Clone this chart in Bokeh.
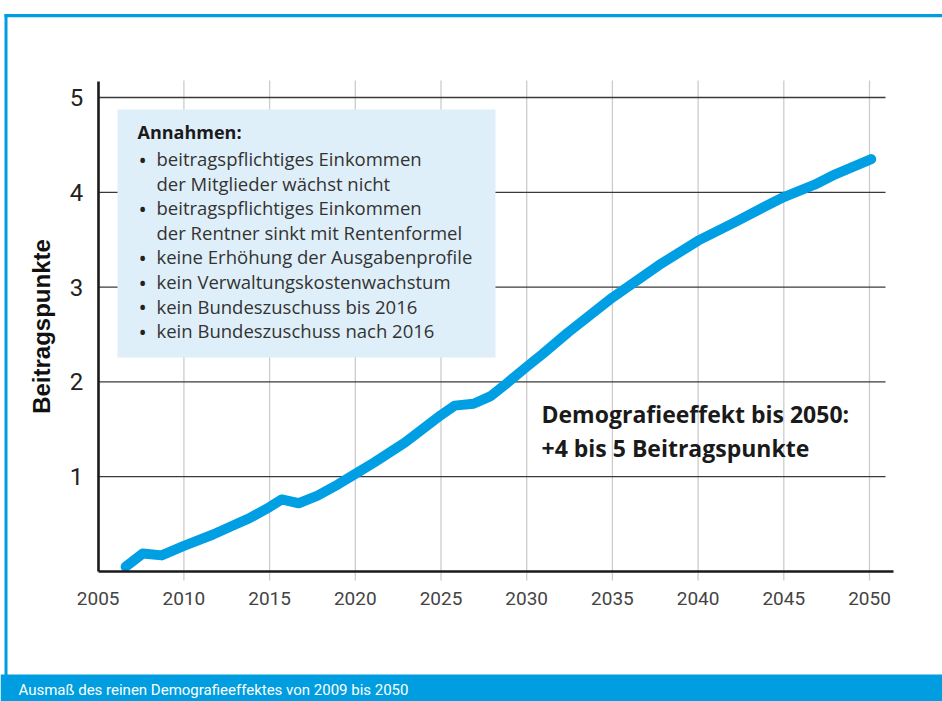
from bokeh.plotting import figure
from bokeh.models import Range1d, FixedTicker
from bokeh.core.properties import value
from bokeh.embed import file_html
from bokeh.resources import INLINE

# ---------------- data ----------------
years = [2006.6, 2007.6, 2008.7, 2010.0, 2011.7, 2012.8, 2013.8, 2015.0, 2015.7,
         2016.7, 2017.8, 2019.0, 2020.0, 2021.1, 2022.9, 2025.0, 2025.8, 2026.9,
         2027.9, 2028.8, 2030.0, 2030.9, 2032.4, 2035.0, 2037.7, 2040.0, 2042.1,
         2043.9, 2045.0, 2046.8, 2048.0, 2050.1]
beitragspunkte = [0.05, 0.19, 0.17, 0.27, 0.39, 0.48, 0.56, 0.68, 0.76,
                  0.72, 0.80, 0.92, 1.03, 1.15, 1.36, 1.65, 1.75, 1.77,
                  1.85, 1.98, 2.16, 2.29, 2.52, 2.89, 3.23, 3.49, 3.68,
                  3.85, 3.95, 4.08, 4.19, 4.35]
x_ticks = [2005, 2010, 2015, 2020, 2025, 2030, 2035, 2040, 2045, 2050]
y_ticks = [1, 2, 3, 4, 5]
grid_x = [2010, 2015, 2020, 2025, 2030, 2035, 2040, 2045, 2050]

legend_title = "Annahmen:"
legend_lines = ["beitragspflichtiges Einkommen", "der Mitglieder wächst nicht",
                "beitragspflichtiges Einkommen", "der Rentner sinkt mit Rentenformel",
                "keine Erhöhung der Ausgabenprofile", "kein Verwaltungskostenwachstum",
                "kein Bundeszuschuss bis 2016", "kein Bundeszuschuss nach 2016"]
legend_bullet = [True, False, True, False, True, True, True, True]
note_lines = ["Demografieeffekt bis 2050:", "+4 bis 5 Beitragspunkte"]
caption = "Ausmaß des reinen Demografieeffektes von 2009 bis 2050"
y_title = "Beitragspunkte"

# ---------------- geometry helpers (canvas pixel -> data) ----------------
XS, X0PX = 17.14, 97.7     # px per year, canvas x of 2005
YS, Y0PX = 94.8, 571.0     # px per unit, canvas y of 0


def dx(px):
    return 2005 + (px - X0PX) / XS


def dy(py):
    return (Y0PX - py) / YS


W, H = 942, 701
BLUE = "#009ee0"
LINE_BLUE = "#009fe3"
FONT = "Open Sans"

p = figure(width=W, height=H, x_range=Range1d(dx(0), dx(W)),
           y_range=Range1d(dy(H), dy(0)), min_border=0,
           output_backend="svg", toolbar_location=None,
           outline_line_color=None, background_fill_color="white",
           border_fill_color="white")
p.xgrid.visible = False
p.ygrid.visible = False

# outer frame and caption bar
p.quad(left=[dx(4)], right=[dx(7)], top=[dy(13.5)], bottom=[dy(676)],
       fill_color=BLUE, line_color=None)
p.quad(left=[dx(4)], right=[dx(W)], top=[dy(13.5)], bottom=[dy(16.8)],
       fill_color=BLUE, line_color=None)
p.quad(left=[dx(0)], right=[dx(W)], top=[dy(674)], bottom=[dy(H)],
       fill_color=BLUE, line_color=None)

# grid lines
x_top = dy(80)
x_bottom = dy(580)
p.segment(x0=grid_x, x1=grid_x, y0=[x_bottom] * len(grid_x), y1=[x_top] * len(grid_x),
          line_color="#cccccc", line_width=1.3)
p.segment(x0=[2005] * len(y_ticks), x1=[dx(885)] * len(y_ticks), y0=y_ticks, y1=y_ticks,
          line_color="#3a3a3a", line_width=1.3)

# assumptions box
p.quad(left=[dx(117)], right=[dx(495)], top=[dy(109)], bottom=[dy(357)],
       fill_color="#dfeff9", line_color=None)

# data line
p.line(years, beitragspunkte, line_width=10, line_color=LINE_BLUE,
       line_cap="round", line_join="round")

# legend texts
p.text(x=[dx(137)], y=[dy(131)], text=[legend_title], text_font=value(FONT),
       text_font_style="bold", text_font_size="18px", text_color="#1a1a1a",
       text_baseline="middle")
ly = [dy(158 + 24.6 * i) for i in range(len(legend_lines))]
p.text(x=[dx(156)] * len(legend_lines), y=ly, text=legend_lines, text_font=value(FONT),
       text_font_size="18.5px", text_color="#333333", text_baseline="middle")
by = [yv for yv, b in zip(ly, legend_bullet) if b]
p.text(x=[dx(138)] * len(by), y=by, text=["•"] * len(by), text_font=value(FONT),
       text_font_size="22px", text_color="#222222", text_baseline="middle")

# annotation
p.text(x=[dx(541)] * 2, y=[dy(413), dy(447)], text=note_lines, text_font=value(FONT),
       text_font_style="bold", text_font_size="23px", text_color="#1a1a1a",
       text_baseline="middle")

# caption
p.text(x=[dx(18)], y=[dy(689)], text=[caption], text_font=value("Roboto"),
       text_font_size="15px", text_color="white", text_baseline="middle")

# axes
xa = p.xaxis[0]
xa.fixed_location = 0
xa.bounds = (2005, dx(893))
xa.ticker = FixedTicker(ticks=x_ticks)
xa.axis_line_color = "#1a1a1a"
xa.axis_line_width = 2.6
xa.major_tick_line_color = None
xa.minor_tick_line_color = None
xa.major_label_standoff = 14
xa.major_label_text_font = "Roboto"
xa.major_label_text_font_size = "19px"
xa.major_label_text_color = "#444444"

ya = p.yaxis[0]
ya.fixed_location = 2005
ya.bounds = (0, dy(81))
ya.ticker = FixedTicker(ticks=y_ticks)
ya.axis_line_color = "#1a1a1a"
ya.axis_line_width = 2.6
ya.major_tick_line_color = None
ya.minor_tick_line_color = None
ya.major_label_standoff = 9
ya.major_label_text_font = "Roboto"
ya.major_label_text_font_size = "24px"
ya.major_label_text_color = "#222222"
ya.axis_label = y_title
ya.axis_label_text_font = "Liberation Sans"
ya.axis_label_text_font_style = "bold"
ya.axis_label_text_font_size = "24px"
ya.axis_label_text_color = "#111111"
ya.axis_label_standoff = 12

open("out.html", "w").write(file_html(p, INLINE))
